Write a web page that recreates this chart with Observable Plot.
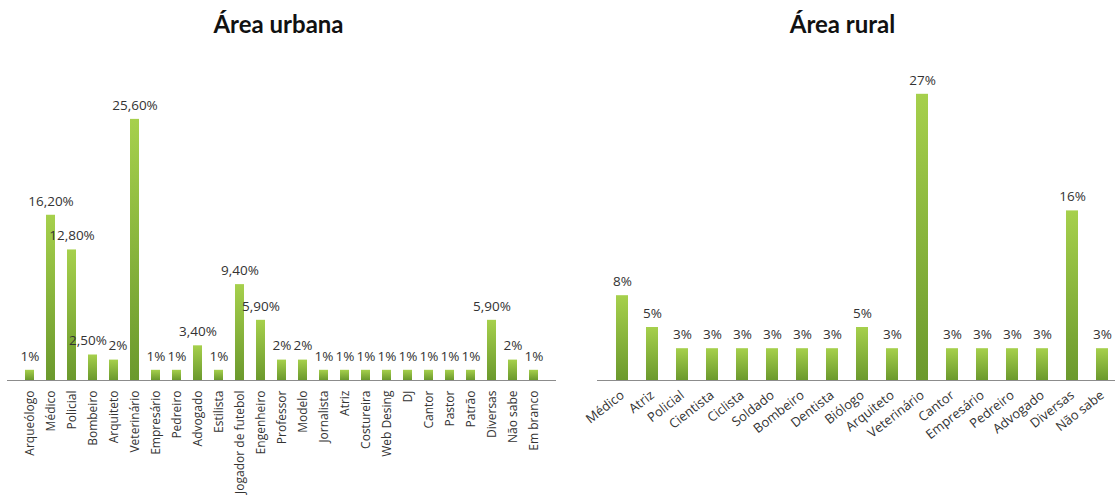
<!DOCTYPE html>
<html><head><meta charset="utf-8">
<script src="https://cdn.jsdelivr.net/npm/d3@7"></script>
<script src="https://cdn.jsdelivr.net/npm/@observablehq/plot@0.6"></script>
<style>
body{margin:0;background:#fff;overflow:hidden;width:1115px;height:500px;font-family:"Open Sans",sans-serif}
#wrap{position:relative;width:1115px;height:500px;overflow:hidden;background:#fff}
.panel{position:absolute;top:0}
.title{height:50px;box-sizing:border-box;padding-top:10px;font-family:Lato,sans-serif;font-weight:bold;font-size:24px;text-align:center;color:#111;line-height:28px}
</style></head><body>
<div id="wrap">
  <div class="panel" id="p1" style="left:0;width:557px"><div class="title">Área urbana</div></div>
  <div class="panel" id="p2" style="left:557px;width:571px"><div class="title">Área rural</div></div>
</div>
<script>
const urbanCategories = ["Arqueólogo","Médico","Policial","Bombeiro","Arquiteto","Veterinário","Empresário","Pedreiro","Advogado","Estilista","Jogador de futebol","Engenheiro","Professor","Modelo","Jornalista","Atriz","Costureira","Web Desing","DJ","Cantor","Pastor","Patrão","Diversas","Não sabe","Em branco"];
const urbanValues = [1,16.2,12.8,2.5,2,25.6,1,1,3.4,1,9.4,5.9,2,2,1,1,1,1,1,1,1,1,5.9,2,1];
const urbanLabels = ["1%","16,20%","12,80%","2,50%","2%","25,60%","1%","1%","3,40%","1%","9,40%","5,90%","2%","2%","1%","1%","1%","1%","1%","1%","1%","1%","5,90%","2%","1%"];

const ruralCategories = ["Médico","Atriz","Policial","Cientista","Ciclista","Soldado","Bombeiro","Dentista","Biólogo","Arquiteto","Veterinário","Cantor","Empresário","Pedreiro","Advogado","Diversas","Não sabe"];
const ruralValues = [8,5,3,3,3,3,3,3,5,3,27,3,3,3,3,16,3];
const ruralLabels = ["8%","5%","3%","3%","3%","3%","3%","3%","5%","3%","27%","3%","3%","3%","3%","16%","3%"];

function addGradient(svg, id) {
  const ns = "http://www.w3.org/2000/svg";
  const defs = document.createElementNS(ns, "defs");
  const g = document.createElementNS(ns, "linearGradient");
  g.setAttribute("id", id);
  g.setAttribute("x1", "0"); g.setAttribute("y1", "0");
  g.setAttribute("x2", "0"); g.setAttribute("y2", "1");
  [["0%", "#a6d04c"], ["100%", "#6b992d"]].forEach(([o, c]) => {
    const s = document.createElementNS(ns, "stop");
    s.setAttribute("offset", o); s.setAttribute("stop-color", c);
    g.appendChild(s);
  });
  defs.appendChild(g);
  svg.insertBefore(defs, svg.firstChild);
}

function makeChart({cats, vals, labels, width, marginLeft, marginRight, marginTop, padding, rotate, tickPadding, tickFont, gid, nudges}) {
  const data = cats.map((c, i) => ({cat: c, v: vals[i], label: labels[i]}));
  const nudged = new Set(Object.keys(nudges));
  const textOpts = {x: "cat", y: "v", text: "label", dy: -14, fontSize: 13.5, fill: "#333"};
  const svg = Plot.plot({
    width, height: 450,
    marginLeft, marginRight, marginTop, marginBottom: 120,
    style: {fontFamily: "'Open Sans', sans-serif", fontSize: "12px", color: "#333", background: "transparent", overflow: "visible"},
    x: {domain: cats, padding, label: null},
    y: {domain: [0, 30], axis: null},
    marks: [
      Plot.barY(data, {x: "cat", y: "v", fill: `url(#${gid})`}),
      Plot.ruleY([0], {stroke: "#8c8c8c", strokeWidth: 1}),
      Plot.text(data.filter(d => !nudged.has(d.cat)), textOpts),
      ...Object.entries(nudges).map(([cat, dx]) =>
        Plot.text(data.filter(d => d.cat === cat), {...textOpts, dx})),
      Plot.axisX({tickRotate: rotate, tickSize: 0, tickPadding, label: null, fontSize: tickFont, fill: "#333"})
    ]
  });
  addGradient(svg, gid);
  return svg;
}

document.getElementById("p1").appendChild(makeChart({
  cats: urbanCategories, vals: urbanValues, labels: urbanLabels,
  width: 557, marginLeft: 7, marginRight: 1, marginTop: 24, padding: 0.55,
  rotate: -90, tickPadding: 10, tickFont: 12, gid: "gU", nudges: {"Bombeiro": -5, "Arquiteto": 4}
}));
document.getElementById("p2").appendChild(makeChart({
  cats: ruralCategories, vals: ruralValues, labels: ruralLabels,
  width: 571, marginLeft: 40, marginRight: 2, marginTop: 12, padding: 0.61,
  rotate: -38, tickPadding: 13, tickFont: 13, gid: "gR", nudges: {}
}));
</script>
</body></html>
